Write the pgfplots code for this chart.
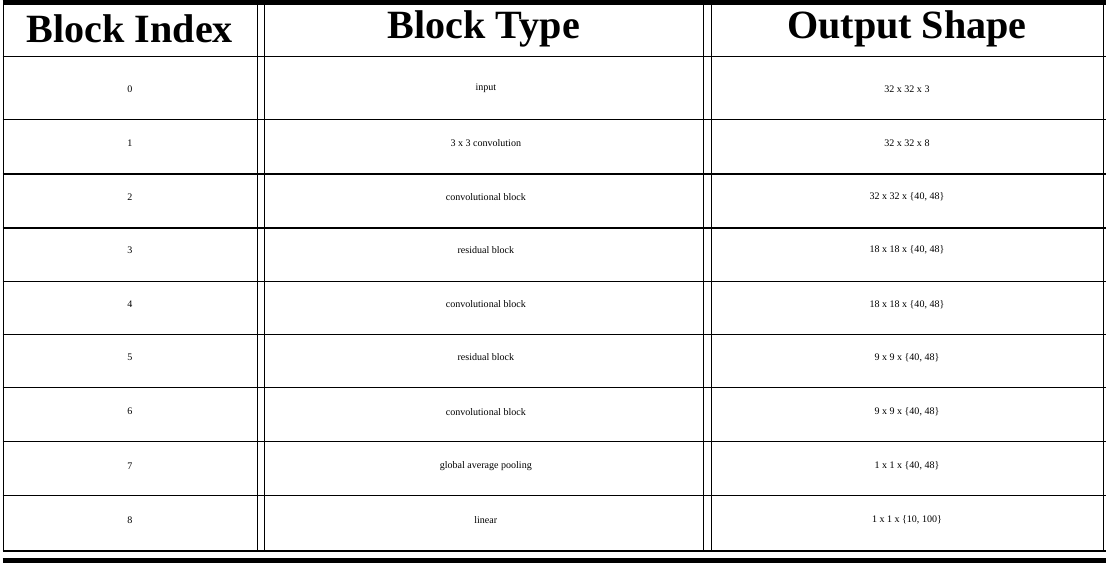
\documentclass[border=0pt]{standalone}
\usepackage{pgfplots}
\pgfplotsset{compat=1.18}
\usepackage{fontspec}
\setmainfont{Liberation Serif}
\begin{document}
\begin{tikzpicture}
\begin{axis}[width=1108pt,height=587pt,scale only axis,hide axis,clip=false,
  xmin=0,xmax=1108,ymin=0,ymax=587,y dir=reverse]
\draw[line width=5pt] (axis cs:4,14) -- (axis cs:1104,14);
\draw[line width=1.3pt] (axis cs:4,68) -- (axis cs:1104,68);
\draw[line width=1.3pt] (axis cs:4,131) -- (axis cs:1104,131);
\draw[line width=1.3pt] (axis cs:4,185) -- (axis cs:1104,185);
\draw[line width=1.3pt] (axis cs:4,239) -- (axis cs:1104,239);
\draw[line width=1.3pt] (axis cs:4,292) -- (axis cs:1104,292);
\draw[line width=1.3pt] (axis cs:4,345) -- (axis cs:1104,345);
\draw[line width=1.3pt] (axis cs:4,398) -- (axis cs:1104,398);
\draw[line width=1.3pt] (axis cs:4,452) -- (axis cs:1104,452);
\draw[line width=1.3pt] (axis cs:4,506) -- (axis cs:1104,506);
\draw[line width=1.3pt] (axis cs:4,561) -- (axis cs:1104,561);
\draw[line width=5pt] (axis cs:4,570) -- (axis cs:1104,570);
\draw[line width=1.3pt] (axis cs:5,14) -- (axis cs:5,561);
\draw[line width=1.3pt] (axis cs:258,14) -- (axis cs:258,561);
\draw[line width=1.3pt] (axis cs:265,14) -- (axis cs:265,561);
\draw[line width=1.3pt] (axis cs:703,14) -- (axis cs:703,561);
\draw[line width=1.3pt] (axis cs:711,14) -- (axis cs:711,561);
\draw[line width=1.3pt] (axis cs:1102,14) -- (axis cs:1102,561);
\node[font=\fontsize{40}{46}\selectfont\bfseries] at (axis cs:131,40) {Block Index};
\node[font=\fontsize{40}{46}\selectfont\bfseries] at (axis cs:484,40) {Block Type};
\node[font=\fontsize{40}{46}\selectfont\bfseries] at (axis cs:906,40) {Output Shape};
\pgfplotsset{every node/.append style={font=\fontsize{44}{50}\selectfont}}
\node at (axis cs:131,100) {0};
\node at (axis cs:486,100) {input};
\node at (axis cs:906,100) {32 x 32 x 3};
\node at (axis cs:131,154) {1};
\node at (axis cs:486,154) {3 x 3 convolution};
\node at (axis cs:906,154) {32 x 32 x 8};
\node at (axis cs:131,208) {2};
\node at (axis cs:486,208) {convolutional block};
\node at (axis cs:906,208) {32 x 32 x \{40, 48\}};
\node at (axis cs:131,261) {3};
\node at (axis cs:486,261) {residual block};
\node at (axis cs:906,261) {18 x 18 x \{40, 48\}};
\node at (axis cs:131,315) {4};
\node at (axis cs:486,315) {convolutional block};
\node at (axis cs:906,315) {18 x 18 x \{40, 48\}};
\node at (axis cs:131,368) {5};
\node at (axis cs:486,368) {residual block};
\node at (axis cs:906,368) {9 x 9 x \{40, 48\}};
\node at (axis cs:131,422) {6};
\node at (axis cs:486,422) {convolutional block};
\node at (axis cs:906,422) {9 x 9 x \{40, 48\}};
\node at (axis cs:131,476) {7};
\node at (axis cs:486,476) {global average pooling};
\node at (axis cs:906,476) {1 x 1 x \{40, 48\}};
\node at (axis cs:131,530) {8};
\node at (axis cs:486,530) {linear};
\node at (axis cs:906,530) {1 x 1 x \{10, 100\}};
\end{axis}
\end{tikzpicture}
\end{document}
